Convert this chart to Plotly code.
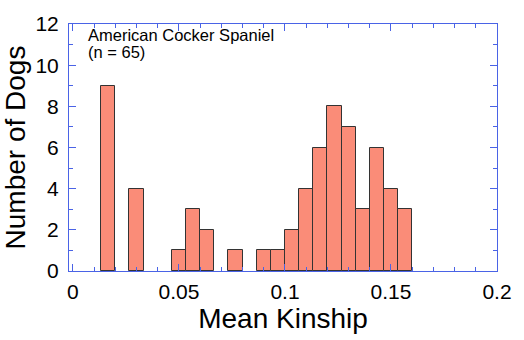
import plotly.graph_objects as go

# Histogram data (mean kinship bins, width 1/150)
bin_width = 1 / 150
bin_left = [0.01333, 0.02, 0.02667, 0.03333, 0.04, 0.04667, 0.05333, 0.06,
            0.06667, 0.07333, 0.08, 0.08667, 0.09333, 0.1, 0.10667, 0.11333,
            0.12, 0.12667, 0.13333, 0.14, 0.14667, 0.15333]
counts = [9, 0, 4, 0, 0, 1, 3, 2, 0, 1, 0, 1, 1, 2, 4, 6, 8, 7, 3, 6, 4, 3]

x_ticks = [0, 0.05, 0.1, 0.15, 0.2]
x_ticklabels = ["0", "0.05", "0.1", "0.15", "0.2"]
y_ticks = [0, 2, 4, 6, 8, 10, 12]

axis_blue = "#4a63e6"
font_family = "Liberation Sans, Arial, Helvetica, sans-serif"

bl = [b for b, c in zip(bin_left, counts) if c > 0]
ct = [c for c in counts if c > 0]

fig = go.Figure()
fig.add_trace(go.Bar(
    x=bl, y=ct, width=bin_width, offset=0,
    marker=dict(color="#fa8c78", line=dict(color="#333333", width=1)),
    showlegend=False,
))

fig.update_layout(
    width=524, height=340,
    margin=dict(l=69, r=22, t=16, b=67),
    paper_bgcolor="white", plot_bgcolor="white",
    font=dict(family=font_family, color="black"),
    bargap=0,
    xaxis=dict(
        range=[-0.00186, 0.2], tickvals=x_ticks, ticktext=x_ticklabels,
        ticks="inside", ticklen=7, tickwidth=1, tickcolor=axis_blue,
        minor=dict(dtick=0.01, tick0=0, ticks="inside", ticklen=4, tickcolor=axis_blue),
        showline=True, linecolor=axis_blue, linewidth=1, mirror="allticks",
        showgrid=False, zeroline=False,
        tickfont=dict(size=21), ticklabelstandoff=2,
        title=dict(text="Mean Kinship", font=dict(size=28), standoff=5),
    ),
    yaxis=dict(
        range=[0, 12], tickvals=y_ticks,
        ticks="inside", ticklen=7, tickwidth=1, tickcolor=axis_blue,
        minor=dict(dtick=1, tick0=0, ticks="inside", ticklen=4, tickcolor=axis_blue),
        showline=True, linecolor=axis_blue, linewidth=1, mirror="allticks",
        showgrid=False, zeroline=False,
        tickfont=dict(size=21), ticklabelstandoff=5,
        title=dict(text="Number of Dogs", font=dict(size=28), standoff=4),
    ),
    annotations=[
        dict(text="American Cocker Spaniel", xref="paper", yref="paper",
             x=0.04, y=0.955, xanchor="left", yanchor="middle", showarrow=False,
             font=dict(size=16.5)),
        dict(text="(n = 65)", xref="paper", yref="paper",
             x=0.04, y=0.885, xanchor="left", yanchor="middle", showarrow=False,
             font=dict(size=16.5)),
    ],
)

fig.write_html("out.html")
